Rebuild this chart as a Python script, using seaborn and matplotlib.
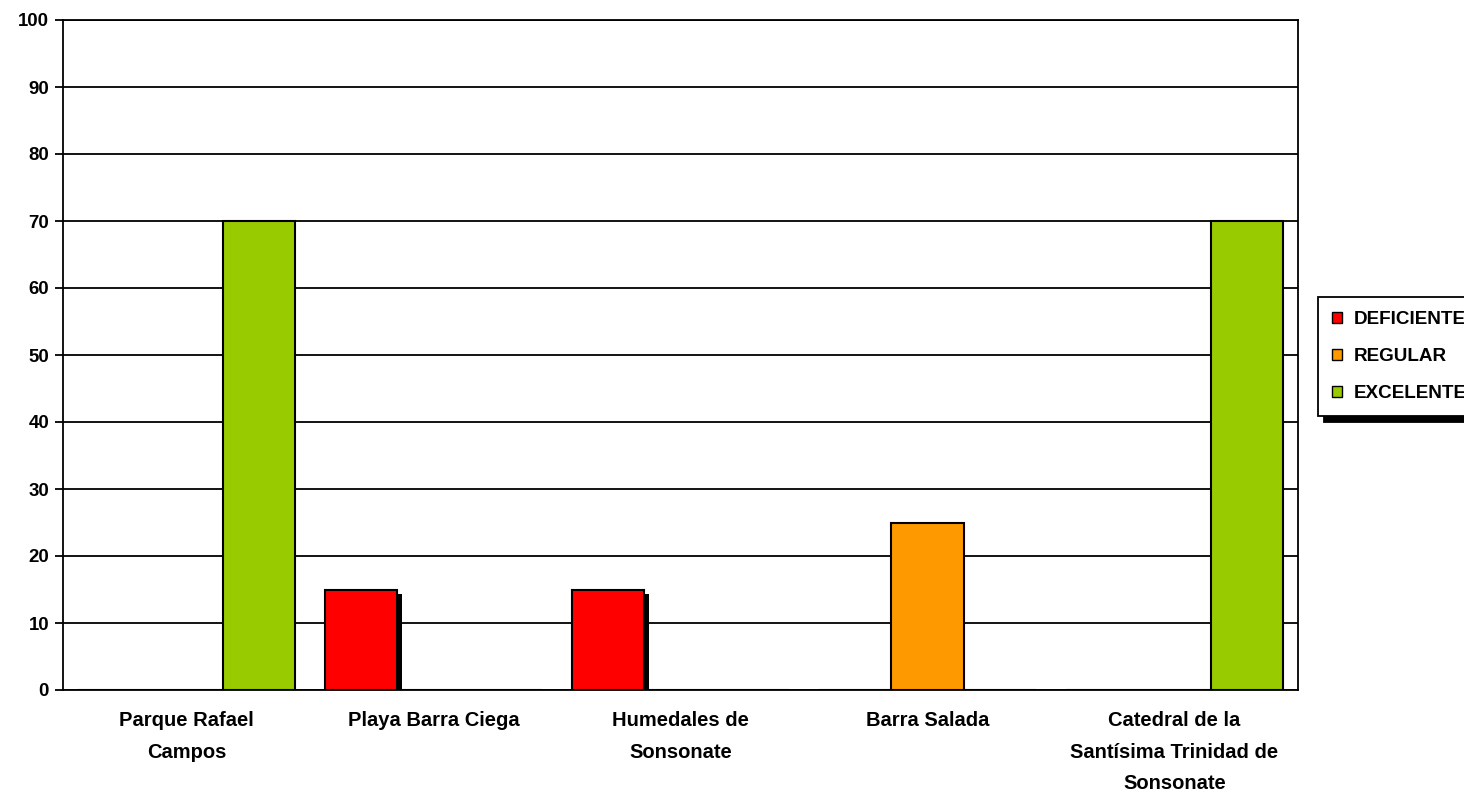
import matplotlib
matplotlib.use("Agg")
import matplotlib.pyplot as plt
import matplotlib.patches as mpatches
import seaborn as sns
import pandas as pd
import numpy as np

categories = ["Parque Rafael\nCampos", "Playa Barra Ciega", "Humedales de\nSonsonate",
              "Barra Salada", "Catedral de la\nSantísima Trinidad de\nSonsonate"]
series = ["DEFICIENTE", "REGULAR", "EXCELENTE"]
deficiente = [0, 15, 15, 0, 0]
regular = [0, 0, 0, 25, 0]
excelente = [70, 0, 0, 0, 70]
colors = ["#FF0000", "#FF9900", "#99CC00"]
yticks = [0, 10, 20, 30, 40, 50, 60, 70, 80, 90, 100]

rows = []
for i, c in enumerate(categories):
    for s, vals in zip(series, [deficiente, regular, excelente]):
        rows.append({"cat": c, "serie": s, "valor": vals[i]})
df = pd.DataFrame(rows)

sns.set_theme(style="white")
plt.rcParams["font.family"] = ["Liberation Sans", "DejaVu Sans"]
plt.rcParams["font.weight"] = "bold"
plt.rcParams["text.color"] = "black"
plt.rcParams["xtick.color"] = "black"
plt.rcParams["ytick.color"] = "black"

fig = plt.figure(figsize=(14.64, 7.94), dpi=100)
ax = fig.add_axes([63/1464, 1-690/794, (1298-63)/1464, (690-20)/794])

sns.barplot(data=df, x="cat", y="valor", hue="serie", order=categories,
            hue_order=series, palette=colors, width=0.875, gap=0,
            edgecolor="black", linewidth=1.5, saturation=1, ax=ax, legend=False,
            zorder=3)

# shadows for DEFICIENTE bars
for bar in ax.patches:
    fc = bar.get_facecolor()
    if bar.get_height() > 0 and abs(fc[0]-1) < 0.01 and fc[1] < 0.01:
        x, y = bar.get_x(), bar.get_y()
        w, h = bar.get_width(), bar.get_height()
        dx = w * 0.06
        dy = 0.6
        sh = mpatches.Rectangle((x + dx, y), w, h - dy, facecolor="black",
                                edgecolor="none", zorder=2.5)
        ax.add_patch(sh)

ax.set_ylim(0, 100)
ax.set_xlim(-0.5, len(categories) - 0.5)
ax.set_yticks(yticks)
ax.set_yticklabels([str(v) for v in yticks], fontsize=13.4, fontweight="bold")
ax.yaxis.grid(True, color="black", linewidth=1.3, zorder=1)
ax.set_axisbelow(True)
ax.set_xticks(range(len(categories)))
ax.set_xticklabels(categories, fontsize=14.5, fontweight="bold", linespacing=1.85)
ax.set_xticks(np.arange(-0.5, len(categories)), minor=True)
ax.tick_params(axis="x", which="major", length=0, pad=15)
ax.tick_params(axis="x", which="minor", length=7, width=1.3, color="black", direction="out")
ax.tick_params(axis="y", which="major", length=6, width=1.3, color="black",
               direction="out", left=True, pad=4)
ax.set_xlabel("")
ax.set_ylabel("")
for sp in ax.spines.values():
    sp.set_visible(True)
    sp.set_color("black")
    sp.set_linewidth(1.3)

handles = [mpatches.Patch(facecolor=c, edgecolor="black", linewidth=1, label=s)
           for c, s in zip(colors, series)]
leg = fig.legend(handles=handles, loc="upper left",
                 bbox_to_anchor=(1318/1464, 1-297/794), frameon=True,
                 fancybox=False, shadow={"color": "black", "alpha": 1, "ox": 4, "oy": -4},
                 handlelength=0.5, handleheight=0.5, handletextpad=0.65,
                 labelspacing=1.05, borderpad=0.75, borderaxespad=0,
                 prop={"weight": "bold", "size": 13.6})
leg.get_frame().set_edgecolor("black")
leg.get_frame().set_linewidth(1.3)
leg.get_frame().set_facecolor("white")

fig.savefig("out.png", dpi=100)
